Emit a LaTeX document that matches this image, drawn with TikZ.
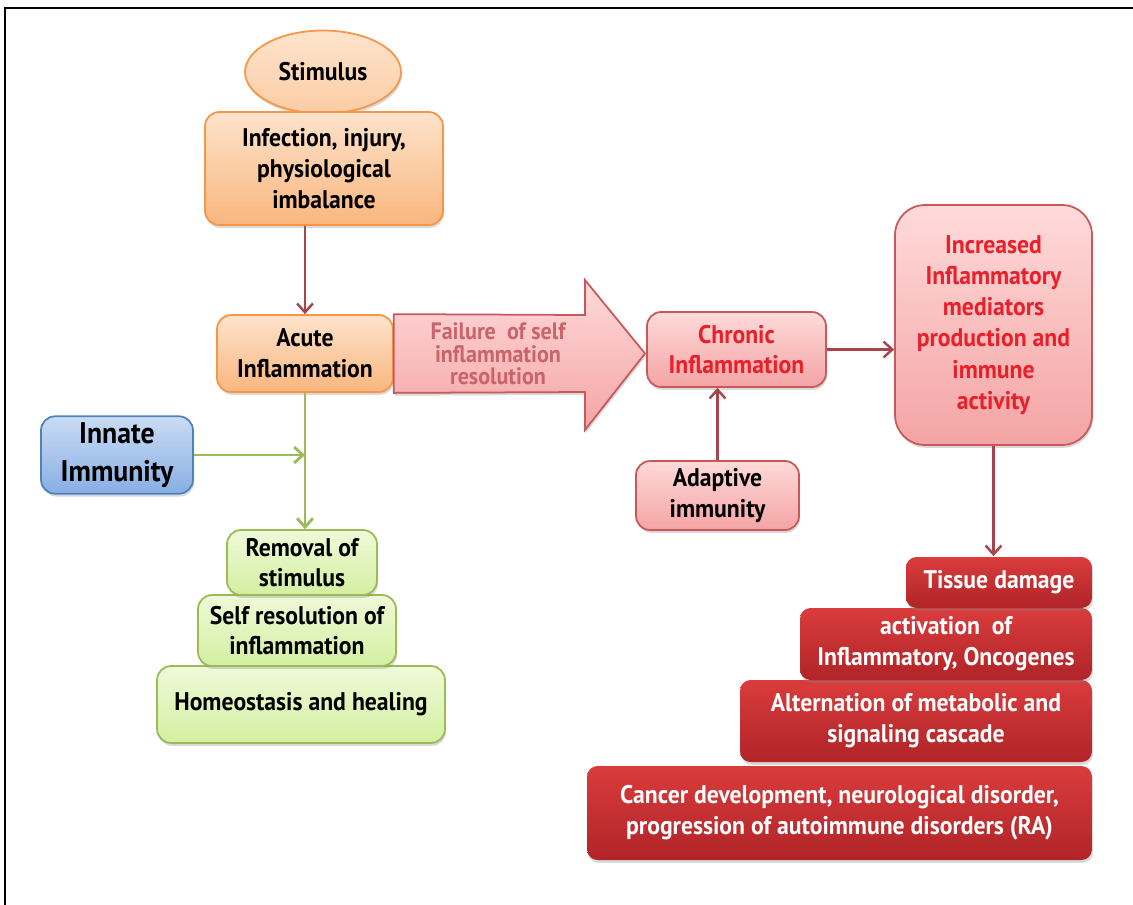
\documentclass[tikz,border=0pt]{standalone}
\usepackage{fontspec}
\setmainfont{PT Sans}[FakeStretch=0.93]
\usetikzlibrary{arrows.meta,shadows,shapes.geometric}
\definecolor{orangeedge}{HTML}{F79646}
\definecolor{orangetop}{HTML}{FDE3CC}
\definecolor{orangebot}{HTML}{FAB67E}
\definecolor{pinkedge}{HTML}{C8585A}
\definecolor{pinktop}{HTML}{FFDADA}
\definecolor{pinkbot}{HTML}{F4A4A4}
\definecolor{blueedge}{HTML}{4F81BD}
\definecolor{bluetop}{HTML}{CADCF4}
\definecolor{bluebot}{HTML}{88AEE4}
\definecolor{greenedge}{HTML}{9BBB59}
\definecolor{greentop}{HTML}{EFFAD9}
\definecolor{greenbot}{HTML}{D3EFA0}
\definecolor{darkred}{HTML}{B02428}
\definecolor{midred}{HTML}{DA3C3C}
\definecolor{linkred}{HTML}{A8444C}
\definecolor{redtext}{HTML}{E8202A}
\definecolor{failtext}{HTML}{C8646A}
\begin{document}
\begin{tikzpicture}[x=0.02cm, y=-0.02cm,
    basebox/.style ={rounded corners=8pt, align=center, font=\bfseries\fontsize{14.5}{17.5}\selectfont,
                     line width=1pt, drop shadow={shadow xshift=0.6pt, shadow yshift=-1.6pt, opacity=0.3}},
    orangebox/.style ={basebox, draw=orangeedge, top color=orangetop, bottom color=orangebot},
    pinkbox/.style ={basebox, draw=pinkedge, top color=pinktop, bottom color=pinkbot},
    bluebox/.style ={basebox, draw=blueedge, top color=bluetop, bottom color=bluebot},
    greenbox/.style ={basebox, draw=greenedge, top color=greentop, bottom color=greenbot},
    redbox/.style ={basebox, rounded corners=6pt, draw=none, top color=midred, bottom color=darkred, text=white},
    redlink/.style ={draw=linkred, line width=1.4pt, -{Straight Barb[length=5pt, width=9pt]}},
    greenlink/.style ={draw=greenedge, line width=1.6pt, -{Straight Barb[length=5pt, width=9pt]}}]
   \useasboundingbox (0,0) rectangle (1133,904);
   \draw[line width=1.3pt] (5,920) -- (5,8) -- (1150,8);

   % left column
   \node[orangebox, ellipse, rounded corners=0pt, top color=orangetop, bottom color=orangetop!50!orangebot,
         minimum width=3.12cm, minimum height=1.66cm] (stimulus) at (323,72) {Stimulus};
   \node[orangebox, minimum width=4.76cm, minimum height=2.26cm] (infection) at (324,168.5)
        {Infection, injury,\\ physiological\\ imbalance};
   \node[orangebox, minimum width=3.52cm, minimum height=1.54cm] (acute) at (305,353.5)
        {Acute\\ Inflammation};
   \node[bluebox, font=\bfseries\fontsize{17}{22}\selectfont, minimum width=3.04cm, minimum height=1.4cm] (innate) at (117,455)
        {Innate\\ Immunity};
   \node[greenbox, minimum width=5.76cm, minimum height=1.54cm] (healing) at (301,704.5)
        {Homeostasis and healing};
   \node[greenbox, minimum width=3.96cm, minimum height=1.42cm] (selfres) at (297,630.5)
        {Self resolution of\\ inflammation};
   \node[greenbox, minimum width=3cm, minimum height=1.3cm] (removal) at (302,562.5)
        {Removal of\\ stimulus};

   % failure arrow
   \draw[draw=pinkedge, line width=1pt, top color=pinktop, bottom color=pinkbot,
         drop shadow={shadow xshift=0.6pt, shadow yshift=-1.6pt, opacity=0.3}]
        (acute.north east) -- (585,315) -- (585,280) -- (645,353.5) -- (585,430) -- (585,392) -- (acute.south east) -- cycle;
   \node[align=center, text=failtext, font=\bfseries\fontsize{13.5}{12.8}\selectfont] (failure) at (498,354)
        {Failure \ of self\\ inflammation\\ resolution};

   % right side
   \node[pinkbox, text=redtext, minimum width=3.58cm, minimum height=1.5cm] (chronic) at (736.5,349.5)
        {Chronic\\ Inflammation};
   \node[pinkbox, text=redtext, rounded corners=17pt, font=\bfseries\fontsize{14.5}{17.8}\selectfont,
         minimum width=3.94cm, minimum height=4.8cm] (increased) at (993.5,325)
        {Increased\\ Inflammatory\\ mediators\\ production and\\ immune\\ activity};
   \node[pinkbox, minimum width=3.26cm, minimum height=1.38cm] (adaptive) at (717.5,495.5)
        {Adaptive\\ immunity};

   \node[redbox, minimum width=10.1cm, minimum height=1.88cm] (cancer) at (839.5,813)
        {Cancer development, neurological disorder,\\ progression of autoimmune disorders (RA)};
   \node[redbox, minimum width=7.04cm, minimum height=1.64cm] (metabolic) at (916,721)
        {Alternation of metabolic and\\ signaling cascade};
   \node[redbox, minimum width=5.84cm, minimum height=1.44cm] (oncogenes) at (946,644)
        {activation \ of\\ Inflammatory, Oncogenes};
   \node[redbox, minimum width=3.72cm, minimum height=1.02cm] (tissue) at (999,582.5)
        {Tissue damage};

   % connectors
   \draw[redlink] (infection.south -| acute.north) -- (acute.north);
   \draw[greenlink] (acute.south) -- (acute.south |- removal.north);
   \draw[greenlink] (innate.east) -- (innate.east -| acute.south);
   \draw[redlink] (chronic.east) -- (chronic.east -| increased.west);
   \draw[redlink] (adaptive.north) -- (adaptive.north |- chronic.south);
   \draw[redlink] (increased.south) -- (increased.south |- tissue.north);
 \end{tikzpicture}
\end{document}
